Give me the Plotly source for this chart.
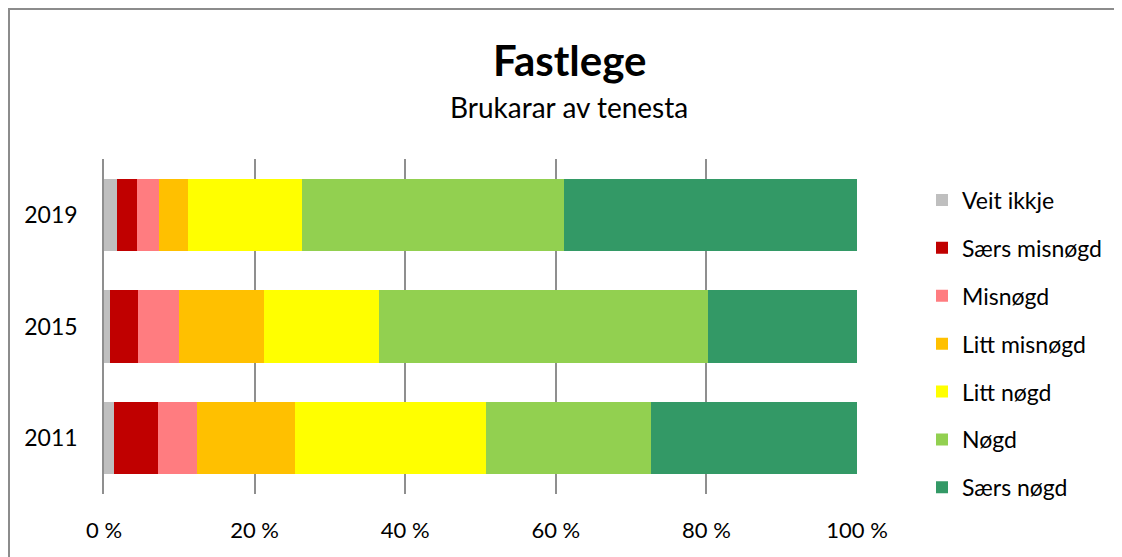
import plotly.graph_objects as go

years = ["2011", "2015", "2019"]
series_names = ["Veit ikkje", "Særs misnøgd", "Misnøgd", "Litt misnøgd", "Litt nøgd", "Nøgd", "Særs nøgd"]
veit_ikkje = [1.3, 0.8, 1.7]
saers_misnogd = [5.9, 3.7, 2.7]
misnogd = [5.1, 5.4, 2.9]
litt_misnogd = [13.0, 11.3, 3.9]
litt_nogd = [25.4, 15.3, 15.1]
nogd = [22.0, 43.7, 34.8]
saers_nogd = [27.3, 19.8, 38.9]
colors = ["#BFBFBF", "#C00000", "#FF7C80", "#FFC000", "#FFFF00", "#92D050", "#339966"]
tick_vals = [0, 20, 40, 60, 80, 100]
tick_text = ["0 %", "20 %", "40 %", "60 %", "80 %", "100 %"]

values = [veit_ikkje, saers_misnogd, misnogd, litt_misnogd, litt_nogd, nogd, saers_nogd]
FONT = "Lato, 'Open Sans', sans-serif"

# page has an 8px body margin; figure is sized/positioned to compensate
OFF = 8
W, H = 1122 - OFF, 557 - OFF
L, T = 104 - OFF, 159 - OFF
PW, PH = 753, 335
R = W - L - PW
B = H - T - PH


def px_x(x):
    return (x - OFF - L) / PW


def px_y(y):
    return (H - B - (y - OFF)) / PH


fig = go.Figure()
for i, (name, vals, col) in enumerate(zip(series_names, values, colors)):
    fig.add_trace(go.Bar(
        y=years, x=vals, name=name, orientation="h",
        marker=dict(color=col, line=dict(width=0)),
        legendgroup=f"g{i}",
    ))

fig.update_layout(
    width=W, height=H,
    barmode="stack", bargap=0.355,
    plot_bgcolor="white", paper_bgcolor="white",
    margin=dict(l=L, r=R, t=T, b=B, autoexpand=False),
    font=dict(family=FONT, size=23, color="black"),
    showlegend=True,
    legend=dict(
        x=px_x(922), xanchor="left",
        y=px_y(344), yanchor="middle",
        traceorder="grouped", tracegroupgap=15,
        font=dict(size=23, family=FONT),
        itemwidth=30,
        maxheight=600,
        bgcolor="rgba(0,0,0,0)",
    ),
    xaxis=dict(
        range=[0, 100], tickvals=tick_vals, ticktext=tick_text,
        showgrid=True, gridcolor="#8f8f8f", gridwidth=1.5,
        zeroline=False, showline=False, ticks="",
        ticklabelstandoff=21,
        tickfont=dict(size=22, family=FONT),
        fixedrange=True,
    ),
    yaxis=dict(
        categoryorder="array", categoryarray=years,
        showgrid=False, zeroline=False,
        showline=True, linecolor="#8f8f8f", linewidth=1.5,
        ticks="", ticklabelstandoff=20,
        tickfont=dict(size=23, family=FONT),
    ),
    annotations=[
        dict(text="<b>Fastlege</b>", x=px_x(569), xref="paper", y=px_y(60), yref="paper",
             xanchor="center", yanchor="middle",
             showarrow=False, font=dict(size=42, family=FONT)),
        dict(text="Brukarar av tenesta", x=px_x(569), xref="paper", y=px_y(107), yref="paper",
             xanchor="center", yanchor="middle",
             showarrow=False, font=dict(size=28, family=FONT)),
    ],
)

fig.add_shape(type="rect", xref="paper", yref="paper",
              x0=px_x(9), x1=px_x(1117),
              y0=px_y(700), y1=px_y(9),
              line=dict(color="#8c8c8c", width=2), fillcolor="rgba(0,0,0,0)",
              layer="below")

fig.write_html("out.html")
